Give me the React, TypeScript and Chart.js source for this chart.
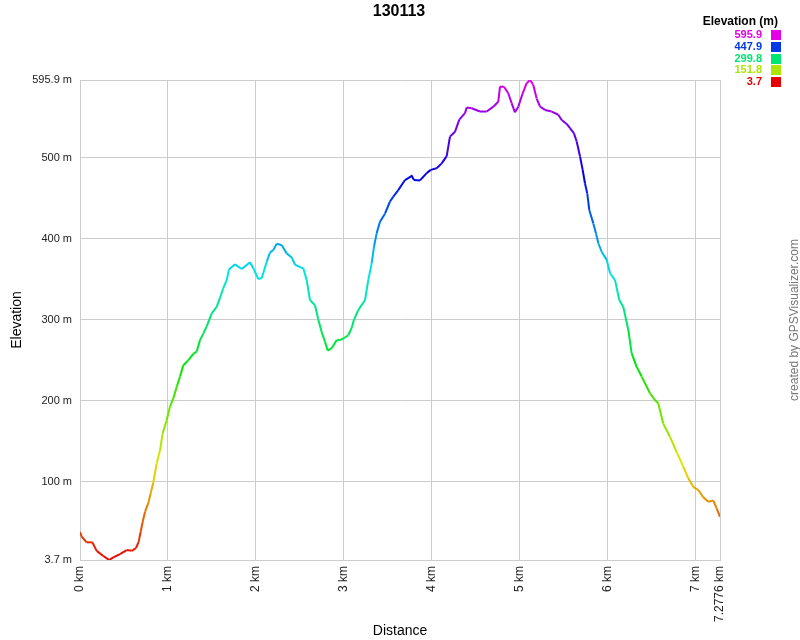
import React, { useEffect, useRef } from "react";
import { Chart, registerables } from "chart.js";

Chart.register(...registerables);

const TITLE = "130113";
const distanceKm = [
  0.0, 0.019, 0.076, 0.14, 0.19, 0.265, 0.333, 0.379, 0.455, 0.531, 0.588, 0.637, 0.667, 0.69, 0.713,
  0.739, 0.777, 0.804, 0.833, 0.872, 0.91, 0.94, 0.986, 1.023, 1.061, 1.1, 1.137, 1.175, 1.231, 1.288,
  1.327, 1.365, 1.402, 1.441, 1.498, 1.554, 1.592, 1.629, 1.668, 1.694, 1.762, 1.839, 1.933, 1.971,
  2.027, 2.066, 2.123, 2.16, 2.198, 2.237, 2.294, 2.35, 2.407, 2.445, 2.502, 2.539, 2.578, 2.615,
  2.672, 2.71, 2.748, 2.786, 2.817, 2.862, 2.919, 2.956, 2.994, 3.051, 3.089, 3.115, 3.164, 3.241,
  3.278, 3.317, 3.343, 3.374, 3.411, 3.468, 3.525, 3.563, 3.619, 3.696, 3.772, 3.798, 3.866, 3.942,
  3.988, 4.056, 4.113, 4.17, 4.207, 4.264, 4.313, 4.378, 4.397, 4.454, 4.548, 4.625, 4.7, 4.756,
  4.776, 4.821, 4.87, 4.909, 4.946, 4.984, 5.034, 5.079, 5.117, 5.154, 5.193, 5.231, 5.288, 5.364,
  5.439, 5.477, 5.534, 5.572, 5.617, 5.648, 5.686, 5.716, 5.742, 5.768, 5.791, 5.837, 5.867, 5.894,
  5.932, 5.989, 6.027, 6.084, 6.132, 6.178, 6.235, 6.273, 6.33, 6.387, 6.481, 6.538, 6.575, 6.632,
  6.708, 6.784, 6.86, 6.917, 6.974, 7.031, 7.088, 7.145, 7.202, 7.24, 7.2776,
];
const elevationM = [
  38, 32.5, 25.5, 25.5, 15, 8.6, 3.7, 7, 11, 16, 15, 18.5, 26, 38.6, 51,
  63, 74, 86, 99, 123, 139, 160, 176, 193, 203, 217.5, 230, 244, 250, 258,
  261, 275, 283, 292, 308, 316, 327, 339, 349, 362, 368.5, 362.7, 371, 363.6,
  350.4, 351.3, 371.7, 383, 386, 394, 392, 382, 377, 368, 365, 363.6, 349, 324.5,
  318, 300, 285, 273, 262, 265, 275, 275, 277, 281, 290, 300, 312, 324.5,
  349, 370, 390, 407, 421, 431, 446, 452, 460, 472.5, 477.5, 472.5, 472, 481,
  485, 487, 493, 502, 526, 532, 547, 555, 562, 561, 557, 557, 563, 569,
  587.6, 587.6, 579.5, 567, 556, 563, 579.5, 592, 595.9, 590, 573, 563, 559, 557,
  553, 546.6, 541.7, 536.4, 530, 520, 501.5, 485, 468.5, 456, 435.6, 419, 406.8, 394.5,
  384, 374, 357.5, 349, 324.5, 316, 287.5, 258.7, 242, 230, 209.4, 201, 197, 172,
  156, 137, 119, 104.5, 94, 90, 81, 75.6, 77, 67.5, 57,
];
const yTicks = [3.7, 100, 200, 300, 400, 500, 595.9];
const yTickLabels = ["3.7 m", "100 m", "200 m", "300 m", "400 m", "500 m", "595.9 m"];
const xTicks = [0, 1, 2, 3, 4, 5, 6, 7, 7.2776];
const xTickLabels = ["0 km", "1 km", "2 km", "3 km", "4 km", "5 km", "6 km", "7 km", "7.2776 km"];
const legendValues = [595.9, 447.9, 299.8, 151.8, 3.7];
const legendLabels = ["595.9", "447.9", "299.8", "151.8", "3.7"];
const ELEV_MIN = 3.7;
const ELEV_MAX = 595.9;

function colorFor(v: number, light = 45): string {
  const t = Math.max(0, Math.min(1, (v - ELEV_MIN) / (ELEV_MAX - ELEV_MIN)));
  const hue = t * 300;
  return `hsl(${hue}, 100%, ${light}%)`;
}

const FONT = "'Liberation Sans', Arial, sans-serif";

const decorPlugin = {
  id: "decor",
  afterDraw(chart: any) {
    const ctx = chart.ctx as CanvasRenderingContext2D;
    ctx.save();
    // title
    ctx.fillStyle = "#000";
    ctx.font = `bold 16px ${FONT}`;
    ctx.textAlign = "center";
    ctx.textBaseline = "middle";
    ctx.fillText(TITLE, 399, 12);
    // legend
    ctx.font = `bold 12px ${FONT}`;
    ctx.textAlign = "right";
    ctx.fillText("Elevation (m)", 778, 21.5);
    ctx.font = `bold 11px ${FONT}`;
    legendValues.forEach((v, i) => {
      const y = 35 + i * 11.8;
      ctx.fillStyle = colorFor(v);
      ctx.fillText(legendLabels[i], 762, y);
      ctx.fillRect(771, Math.round(y - 5), 10, 10);
    });
    // watermark
    ctx.fillStyle = "#777";
    ctx.font = `12px ${FONT}`;
    ctx.textAlign = "center";
    ctx.translate(795, 320);
    ctx.rotate(-Math.PI / 2);
    ctx.fillText("created by GPSVisualizer.com", 0, 0);
    ctx.restore();
  },
};

export default function App() {
  const ref = useRef<HTMLCanvasElement | null>(null);
  useEffect(() => {
    if (!ref.current) return;
    const points = distanceKm.map((x, i) => ({ x, y: elevationM[i] }));
    const chart = new Chart(ref.current, {
      type: "line",
      data: {
        datasets: [
          {
            data: points,
            borderWidth: 2,
            pointRadius: 0,
            tension: 0,
            borderColor: colorFor(300),
            segment: {
              borderColor: (c: any) => colorFor((c.p0.parsed.y + c.p1.parsed.y) / 2),
            },
          },
        ],
      },
      options: {
        animation: false,
        responsive: false,
        maintainAspectRatio: false,
        layout: { padding: { top: 80, right: 80, left: 0, bottom: 0 } },
        plugins: { legend: { display: false }, tooltip: { enabled: false }, title: { display: false } },
        scales: {
          x: {
            type: "linear",
            min: 0,
            max: 7.2776,
            afterBuildTicks: (s: any) => {
              s.ticks = xTicks.map((v) => ({ value: v }));
            },
            afterFit: (s: any) => {
              s.height = 80;
            },
            ticks: {
              autoSkip: false,
              minRotation: 90,
              maxRotation: 90,
              padding: 6,
              color: "#222",
              font: { family: FONT, size: 12 },
              callback: (v: any) => {
                const i = xTicks.indexOf(Number(v));
                return i >= 0 ? xTickLabels[i] : "";
              },
            },
            grid: { color: "#cccccc", drawTicks: false, lineWidth: 1 },
            border: { display: true, color: "#cccccc" },
            title: {
              display: true,
              text: "Distance",
              color: "#000",
              font: { family: FONT, size: 14 },
              padding: { top: 0, bottom: 0 },
            },
          },
          y: {
            type: "linear",
            min: ELEV_MIN,
            max: ELEV_MAX,
            afterBuildTicks: (s: any) => {
              s.ticks = yTicks.map((v) => ({ value: v }));
            },
            afterFit: (s: any) => {
              s.width = 80;
            },
            ticks: {
              autoSkip: false,
              padding: 8,
              color: "#222",
              font: { family: FONT, size: 11 },
              callback: (v: any) => {
                const i = yTicks.indexOf(Number(v));
                return i >= 0 ? yTickLabels[i] : "";
              },
            },
            grid: { color: "#cccccc", drawTicks: false, lineWidth: 1 },
            border: { display: true, color: "#cccccc" },
            title: {
              display: true,
              text: "Elevation",
              color: "#000",
              font: { family: FONT, size: 14 },
              padding: { top: 9, bottom: 0 },
            },
          },
        },
      },
      plugins: [decorPlugin],
    });
    return () => chart.destroy();
  }, []);
  return (
    <div style={{ position: "absolute", left: 0, top: 0, width: 800, height: 640, background: "#fff" }}>
      <canvas ref={ref} width={800} height={640} />
    </div>
  );
}
